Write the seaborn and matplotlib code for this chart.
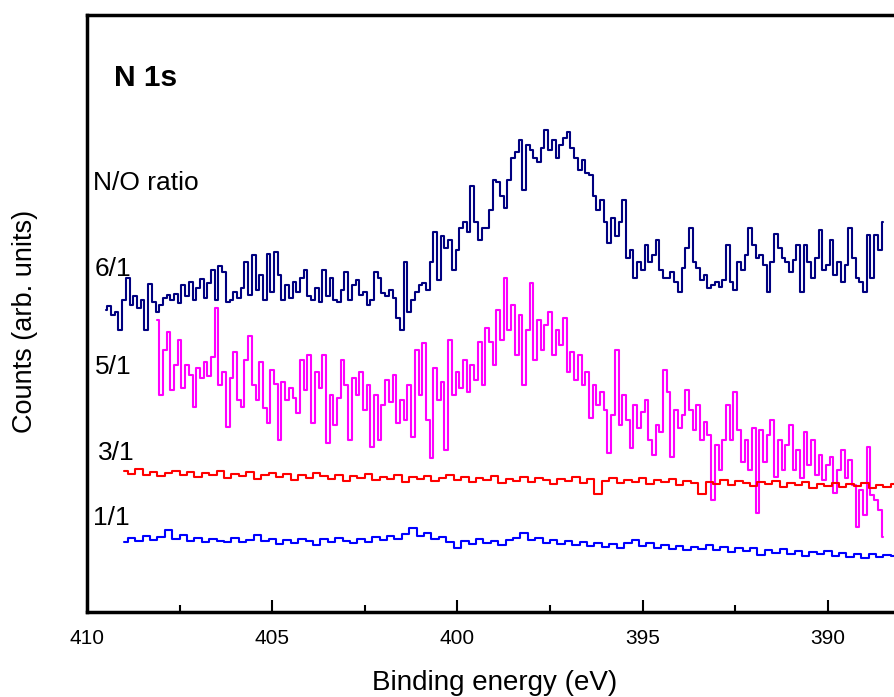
import numpy as np
import pandas as pd
import seaborn as sns
import matplotlib
matplotlib.use("Agg")
import matplotlib.pyplot as plt
from matplotlib.ticker import MultipleLocator

# N 1s spectra, counts (arb. units)
ratios = ["6/1", "5/1", "3/1", "1/1"]
colors = ["#000080", "#ff00ff", "#ff0000", "#0000ff"]

energy_61 = np.linspace(409.5, 388.5, 211)
counts_61 = [
    302, 306, 297, 300, 282, 312, 334, 307, 316, 304,
    312, 282, 328, 310, 300, 307, 314, 317, 312, 318,
    309, 327, 316, 330, 312, 324, 333, 314, 329, 342,
    312, 346, 340, 310, 312, 320, 314, 324, 350, 317,
    357, 322, 337, 312, 358, 320, 360, 337, 312, 327,
    314, 330, 320, 334, 342, 316, 312, 324, 310, 342,
    316, 334, 312, 310, 322, 340, 312, 327, 332, 317,
    320, 307, 312, 340, 334, 319, 316, 322, 314, 294,
    282, 350, 300, 312, 320, 327, 329, 322, 350, 380,
    332, 376, 364, 372, 342, 362, 384, 390, 380, 426,
    390, 372, 384, 384, 402, 432, 430, 416, 404, 432,
    454, 460, 472, 422, 467, 462, 454, 450, 464, 482,
    462, 472, 454, 467, 474, 480, 464, 454, 442, 452,
    439, 437, 416, 402, 412, 390, 369, 394, 376, 390,
    412, 354, 362, 334, 350, 342, 367, 350, 357, 372,
    342, 334, 334, 340, 330, 320, 344, 364, 384, 350,
    344, 332, 337, 324, 327, 330, 325, 332, 367, 330,
    322, 350, 342, 357, 384, 367, 354, 357, 347, 320,
    350, 378, 364, 354, 350, 340, 352, 367, 320, 367,
    350, 334, 354, 382, 342, 347, 372, 337, 350, 330,
    347, 384, 354, 334, 330, 320, 377, 334, 377, 362,
    390,
]

energy_51 = np.linspace(408.1, 388.5, 197)
counts_51 = [
    292, 217, 262, 280, 222, 247, 272, 224, 247, 237,
    205, 244, 234, 250, 236, 255, 304, 227, 240, 185,
    234, 260, 212, 205, 252, 276, 227, 212, 250, 204,
    189, 242, 228, 172, 230, 212, 224, 214, 199, 252,
    222, 257, 189, 240, 224, 257, 169, 217, 187, 214,
    252, 227, 172, 234, 217, 240, 202, 227, 165, 217,
    172, 207, 232, 210, 237, 189, 212, 192, 227, 175,
    262, 217, 269, 192, 154, 244, 212, 230, 162, 272,
    217, 240, 224, 252, 220, 247, 232, 270, 227, 284,
    270, 247, 302, 272, 334, 282, 307, 257, 297, 227,
    282, 329, 252, 292, 262, 287, 300, 257, 282, 267,
    294, 240, 260, 232, 257, 227, 240, 194, 227, 207,
    220, 202, 159, 197, 262, 187, 217, 192, 164, 207,
    184, 200, 212, 172, 157, 187, 180, 242, 220, 155,
    202, 184, 197, 222, 202, 182, 207, 172, 190, 177,
    112, 167, 142, 172, 207, 172, 220, 182, 150, 172,
    142, 184, 99, 182, 150, 177, 192, 135, 172, 142,
    167, 187, 142, 162, 134, 180, 147, 172, 137, 157,
    132, 147, 155, 119, 142, 162, 134, 152, 127, 85,
    122, 97, 165, 117, 112, 102, 75,
]

energy_31 = np.linspace(409.0, 388.2, 105)
counts_31 = [
    141, 138, 143, 137, 140, 136, 139, 141, 137, 140,
    135, 139, 137, 141, 134, 138, 136, 140, 133, 137,
    139, 135, 138, 132, 137, 134, 139, 136, 133, 137,
    131, 136, 134, 138, 132, 135, 133, 137, 130, 135,
    133, 136, 131, 134, 137, 132, 135, 130, 134, 132,
    136, 129, 133, 131, 135, 130, 134, 132, 128, 133,
    131, 135, 129, 133, 118, 131, 134, 129, 132, 130,
    134, 128, 132, 130, 133, 127, 131, 129, 118, 130,
    128, 132, 127, 131, 129, 126, 130, 128, 131, 125,
    129, 127, 130, 124, 128, 126, 129, 125, 128, 126,
    129, 124, 127, 125, 128,
]

energy_11 = np.linspace(409.0, 388.2, 105)
counts_11 = [
    70, 74, 71, 76, 72, 75, 82, 73, 77, 71,
    74, 70, 73, 71, 70, 74, 70, 72, 77, 71,
    73, 68, 72, 69, 73, 71, 67, 73, 70, 74,
    71, 69, 73, 70, 75, 72, 76, 73, 78, 84,
    76, 79, 73, 75, 70, 64, 71, 68, 73, 69,
    71, 67, 72, 74, 79, 72, 74, 69, 72, 68,
    71, 67, 70, 66, 69, 65, 68, 64, 69, 72,
    66, 69, 64, 67, 63, 66, 62, 65, 63, 67,
    62, 65, 60, 64, 61, 64, 57, 62, 59, 63,
    58, 61, 56, 60, 58, 61, 56, 59, 55, 58,
    54, 58, 55, 57, 56,
]

spectra = pd.concat([
    pd.DataFrame({"energy": energy_61, "counts": counts_61, "ratio": "6/1"}),
    pd.DataFrame({"energy": energy_51, "counts": counts_51, "ratio": "5/1"}),
    pd.DataFrame({"energy": energy_31, "counts": counts_31, "ratio": "3/1"}),
    pd.DataFrame({"energy": energy_11, "counts": counts_11, "ratio": "1/1"}),
], ignore_index=True)

sns.set_theme(style="white")
plt.rcParams["font.family"] = ["Liberation Sans", "DejaVu Sans"]
plt.rcParams["text.color"] = "black"
plt.rcParams["axes.labelcolor"] = "black"
plt.rcParams["xtick.color"] = "black"

fig = plt.figure(figsize=(8.94, 6.97), dpi=100)
ax = fig.add_axes([0.0973, 0.122, 0.9116, 0.8565])

sns.lineplot(data=spectra, x="energy", y="counts", hue="ratio",
             hue_order=ratios, palette=dict(zip(ratios, colors)),
             estimator=None, sort=False, lw=1.5, drawstyle="steps-mid",
             legend=False, ax=ax)

ax.set_xlim(410, 388)
ax.set_ylim(0, 597)
ax.set_xticks([410, 405, 400, 395, 390])
ax.xaxis.set_minor_locator(MultipleLocator(2.5))
ax.set_yticks([])
ax.tick_params(axis="x", which="major", direction="in", length=9, width=1.5,
               labelsize=15, pad=12, bottom=True, top=False, colors="black")
ax.tick_params(axis="x", which="minor", direction="in", length=5, width=1.5,
               bottom=True, top=False, colors="black")
for side in ["left", "top", "bottom"]:
    ax.spines[side].set_linewidth(2.5)
    ax.spines[side].set_color("black")
ax.spines["right"].set_visible(False)

ax.set_xlabel("Binding energy (eV)", fontsize=20, va="center")
ax.xaxis.set_label_coords(0.5, -0.119)
ax.set_ylabel("Counts (arb. units)", fontsize=19.5, va="center")
ax.yaxis.set_label_coords(-0.076, 0.486)

ax.text(0.0331, 0.8945, "N 1s", transform=ax.transAxes, fontsize=21.5,
        fontweight="bold", va="center", ha="left")
ax.text(0.0074, 0.7186, "N/O ratio", transform=ax.transAxes, fontsize=19,
        va="center", ha="left")
label_pos = [(0.0098, 0.5745), (0.0098, 0.4104), (0.0135, 0.2663), (0.0074, 0.1575)]
for r, (tx, ty) in zip(ratios, label_pos):
    ax.text(tx, ty, r, transform=ax.transAxes, fontsize=19, va="center", ha="left")

fig.savefig("out.png", dpi=100)
